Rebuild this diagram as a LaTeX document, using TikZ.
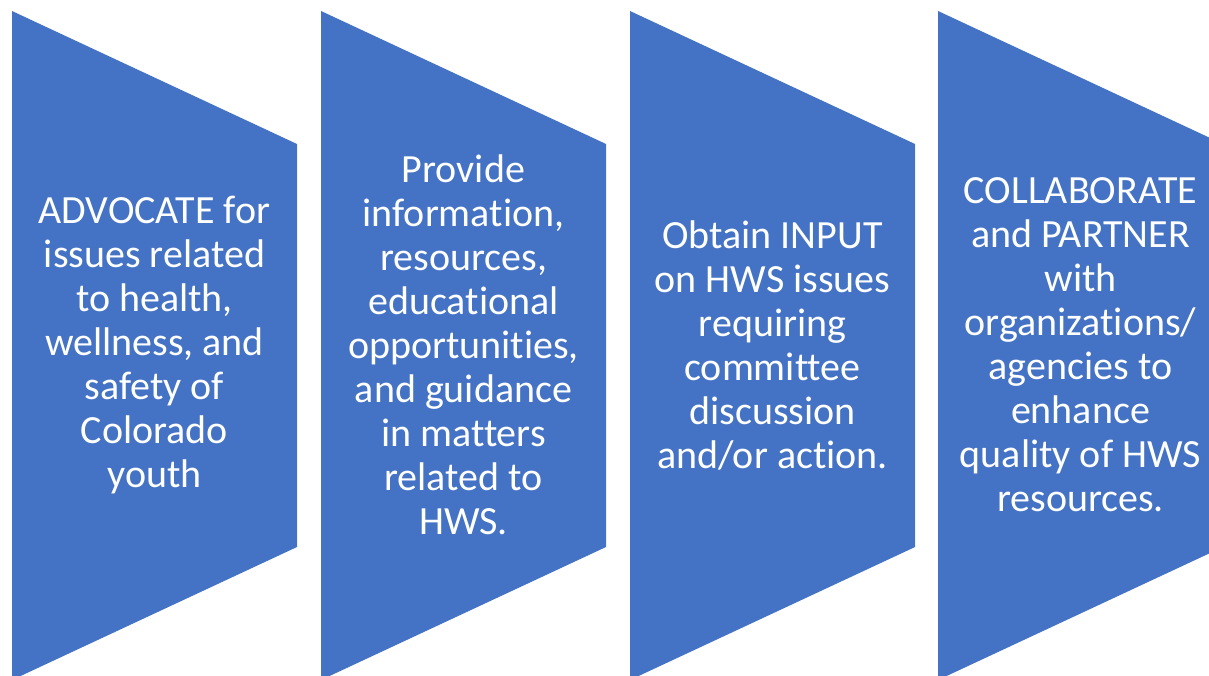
\documentclass[tikz,border=0pt]{standalone}
\usepackage{fontspec}
\setmainfont[Ligatures=NoCommon]{Carlito}
\definecolor{hwsblue}{HTML}{4472C4}
\tikzset{
  chevron/.style={fill=hwsblue},
  step text/.style={text=white, align=center, inner sep=0pt,
    font=\fontsize{40}{44}\selectfont}
}
\begin{document}
\begin{tikzpicture}[x=1pt,y=-1pt]
  \clip (0,0) rectangle (1209,675);
  % the four chevrons, 309 apart
  \foreach \x in {12,321,630,938}
    \fill[chevron] (\x,11) -- ++(285,133) -- ++(0,403) -- ++(-285,133) -- cycle;

  \node[step text] (advocate) at (154.5,345) {ADVOCATE for\\issues related\\to health,\\wellness, and\\safety of\\Colorado\\youth};
  \node[step text] (provide) at (463.5,345) {Provide\\information,\\resources,\\educational\\opportunities,\\and guidance\\in matters\\related to\\HWS.};
  \node[step text] (input) at (772.5,345) {Obtain INPUT\\on HWS issues\\requiring\\committee\\discussion\\and/or action.};
  \node[step text] (partner) at (1080.5,345) {COLLABORATE\\and PARTNER\\with\\organizations/\\agencies to\\enhance\\quality of HWS\\resources.};
\end{tikzpicture}
\end{document}
